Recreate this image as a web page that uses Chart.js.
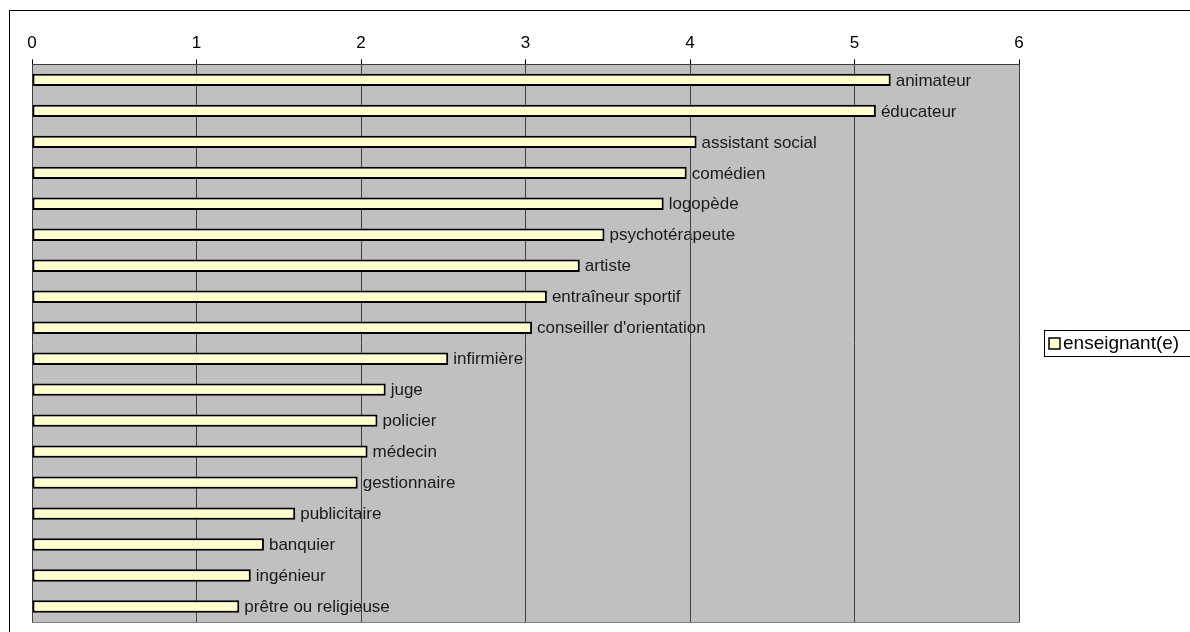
<!DOCTYPE html>
<html>
<head>
<meta charset="utf-8">
<script src="https://cdn.jsdelivr.net/npm/chart.js@4"></script>
<style>
    html, body { margin: 0; padding: 0; background: #fff; }
    canvas { display: block; }
</style>
</head>
<body>
<canvas id="myChart" width="1190" height="632"></canvas>
<script>
const professions = [
    'animateur', 'éducateur', 'assistant social', 'comédien', 'logopède',
    'psychotérapeute', 'artiste', 'entraîneur sportif', "conseiller d'orientation",
    'infirmière', 'juge', 'policier', 'médecin', 'gestionnaire', 'publicitaire',
    'banquier', 'ingénieur', 'prêtre ou religieuse'
];
const scores = [
    5.22, 5.13, 4.04, 3.98, 3.84,
    3.48, 3.33, 3.13, 3.04,
    2.53, 2.15, 2.10, 2.04, 1.98, 1.60,
    1.41, 1.33, 1.26
];
const seriesName = 'enseignant(e)';
const xTicks = [0, 1, 2, 3, 4, 5, 6];

const FONT = '"Liberation Sans", Arial, sans-serif';

document.addEventListener('DOMContentLoaded', function () {
    const ctx = document.getElementById('myChart').getContext('2d');

    new Chart(ctx, {
        type: 'bar',
        data: {
            labels: professions,
            datasets: [{
                label: seriesName,
                data: scores,
                backgroundColor: '#FFFFCC',
                borderColor: '#000000',
                borderWidth: 2,
                borderSkipped: false,
                categoryPercentage: 1,
                barPercentage: 0.4
            }]
        },
        options: {
            indexAxis: 'y',
            responsive: false,
            animation: false,
            events: [],
            layout: {
                padding: { left: 32, right: 171, top: 27, bottom: 10 }
            },
            scales: {
                x: {
                    position: 'top',
                    min: xTicks[0],
                    max: xTicks[xTicks.length - 1],
                    afterBuildTicks: function (axis) {
                        axis.ticks = xTicks.map(function (v) { return { value: v }; });
                    },
                    ticks: {
                        color: '#000',
                        padding: 6,
                        font: { family: FONT, size: 17 }
                    },
                    grid: {
                        color: '#404040',
                        lineWidth: 1,
                        tickLength: 5,
                        tickColor: '#000'
                    },
                    border: { display: true, color: '#404040', width: 1 }
                },
                y: {
                    ticks: { display: false },
                    grid: { display: false, drawTicks: false },
                    border: { display: false }
                }
            },
            plugins: {
                legend: { display: false },
                tooltip: { enabled: false }
            }
        },
        plugins: [{
            // grey plot area, outer frame and bar labels go under the grid
            beforeDraw: function (chart) {
                const c = chart.ctx;
                const a = chart.chartArea;
                c.save();
                c.fillStyle = '#fff';
                c.fillRect(0, 0, chart.width, chart.height);
                c.strokeStyle = '#000';
                c.lineWidth = 1;
                c.strokeRect(9.5, 10.5, chart.width + 20, chart.height + 20);
                c.fillStyle = '#C0C0C0';
                c.fillRect(a.left, a.top, a.right - a.left, a.bottom - a.top);
                c.strokeStyle = '#808080';
                c.beginPath();
                c.moveTo(a.right + 0.5, a.top);
                c.lineTo(a.right + 0.5, a.bottom + 0.5);
                c.lineTo(a.left, a.bottom + 0.5);
                c.stroke();

                const meta = chart.getDatasetMeta(0);
                c.fillStyle = '#1a1a1a';
                c.font = '17px ' + FONT;
                c.textAlign = 'left';
                c.textBaseline = 'middle';
                meta.data.forEach(function (bar, i) {
                    c.fillText(chart.data.labels[i], bar.x + 5, bar.y + 1);
                });
                c.restore();
            },
            afterDraw: function (chart) {
                const c = chart.ctx;
                const ds = chart.data.datasets[0];
                c.save();
                c.fillStyle = '#fff';
                c.fillRect(1044, 330, 160, 26);
                c.strokeStyle = '#000';
                c.lineWidth = 1;
                c.strokeRect(1044.5, 330.5, 160, 26);
                c.fillStyle = ds.backgroundColor;
                c.fillRect(1049, 338, 11, 11);
                c.lineWidth = 1.5;
                c.strokeRect(1049, 338, 11, 11);
                c.fillStyle = '#000';
                c.font = '19px ' + FONT;
                c.textBaseline = 'middle';
                c.fillText(ds.label, 1063, 344);
                c.restore();
            }
        }]
    });
});
</script>
</body>
</html>
